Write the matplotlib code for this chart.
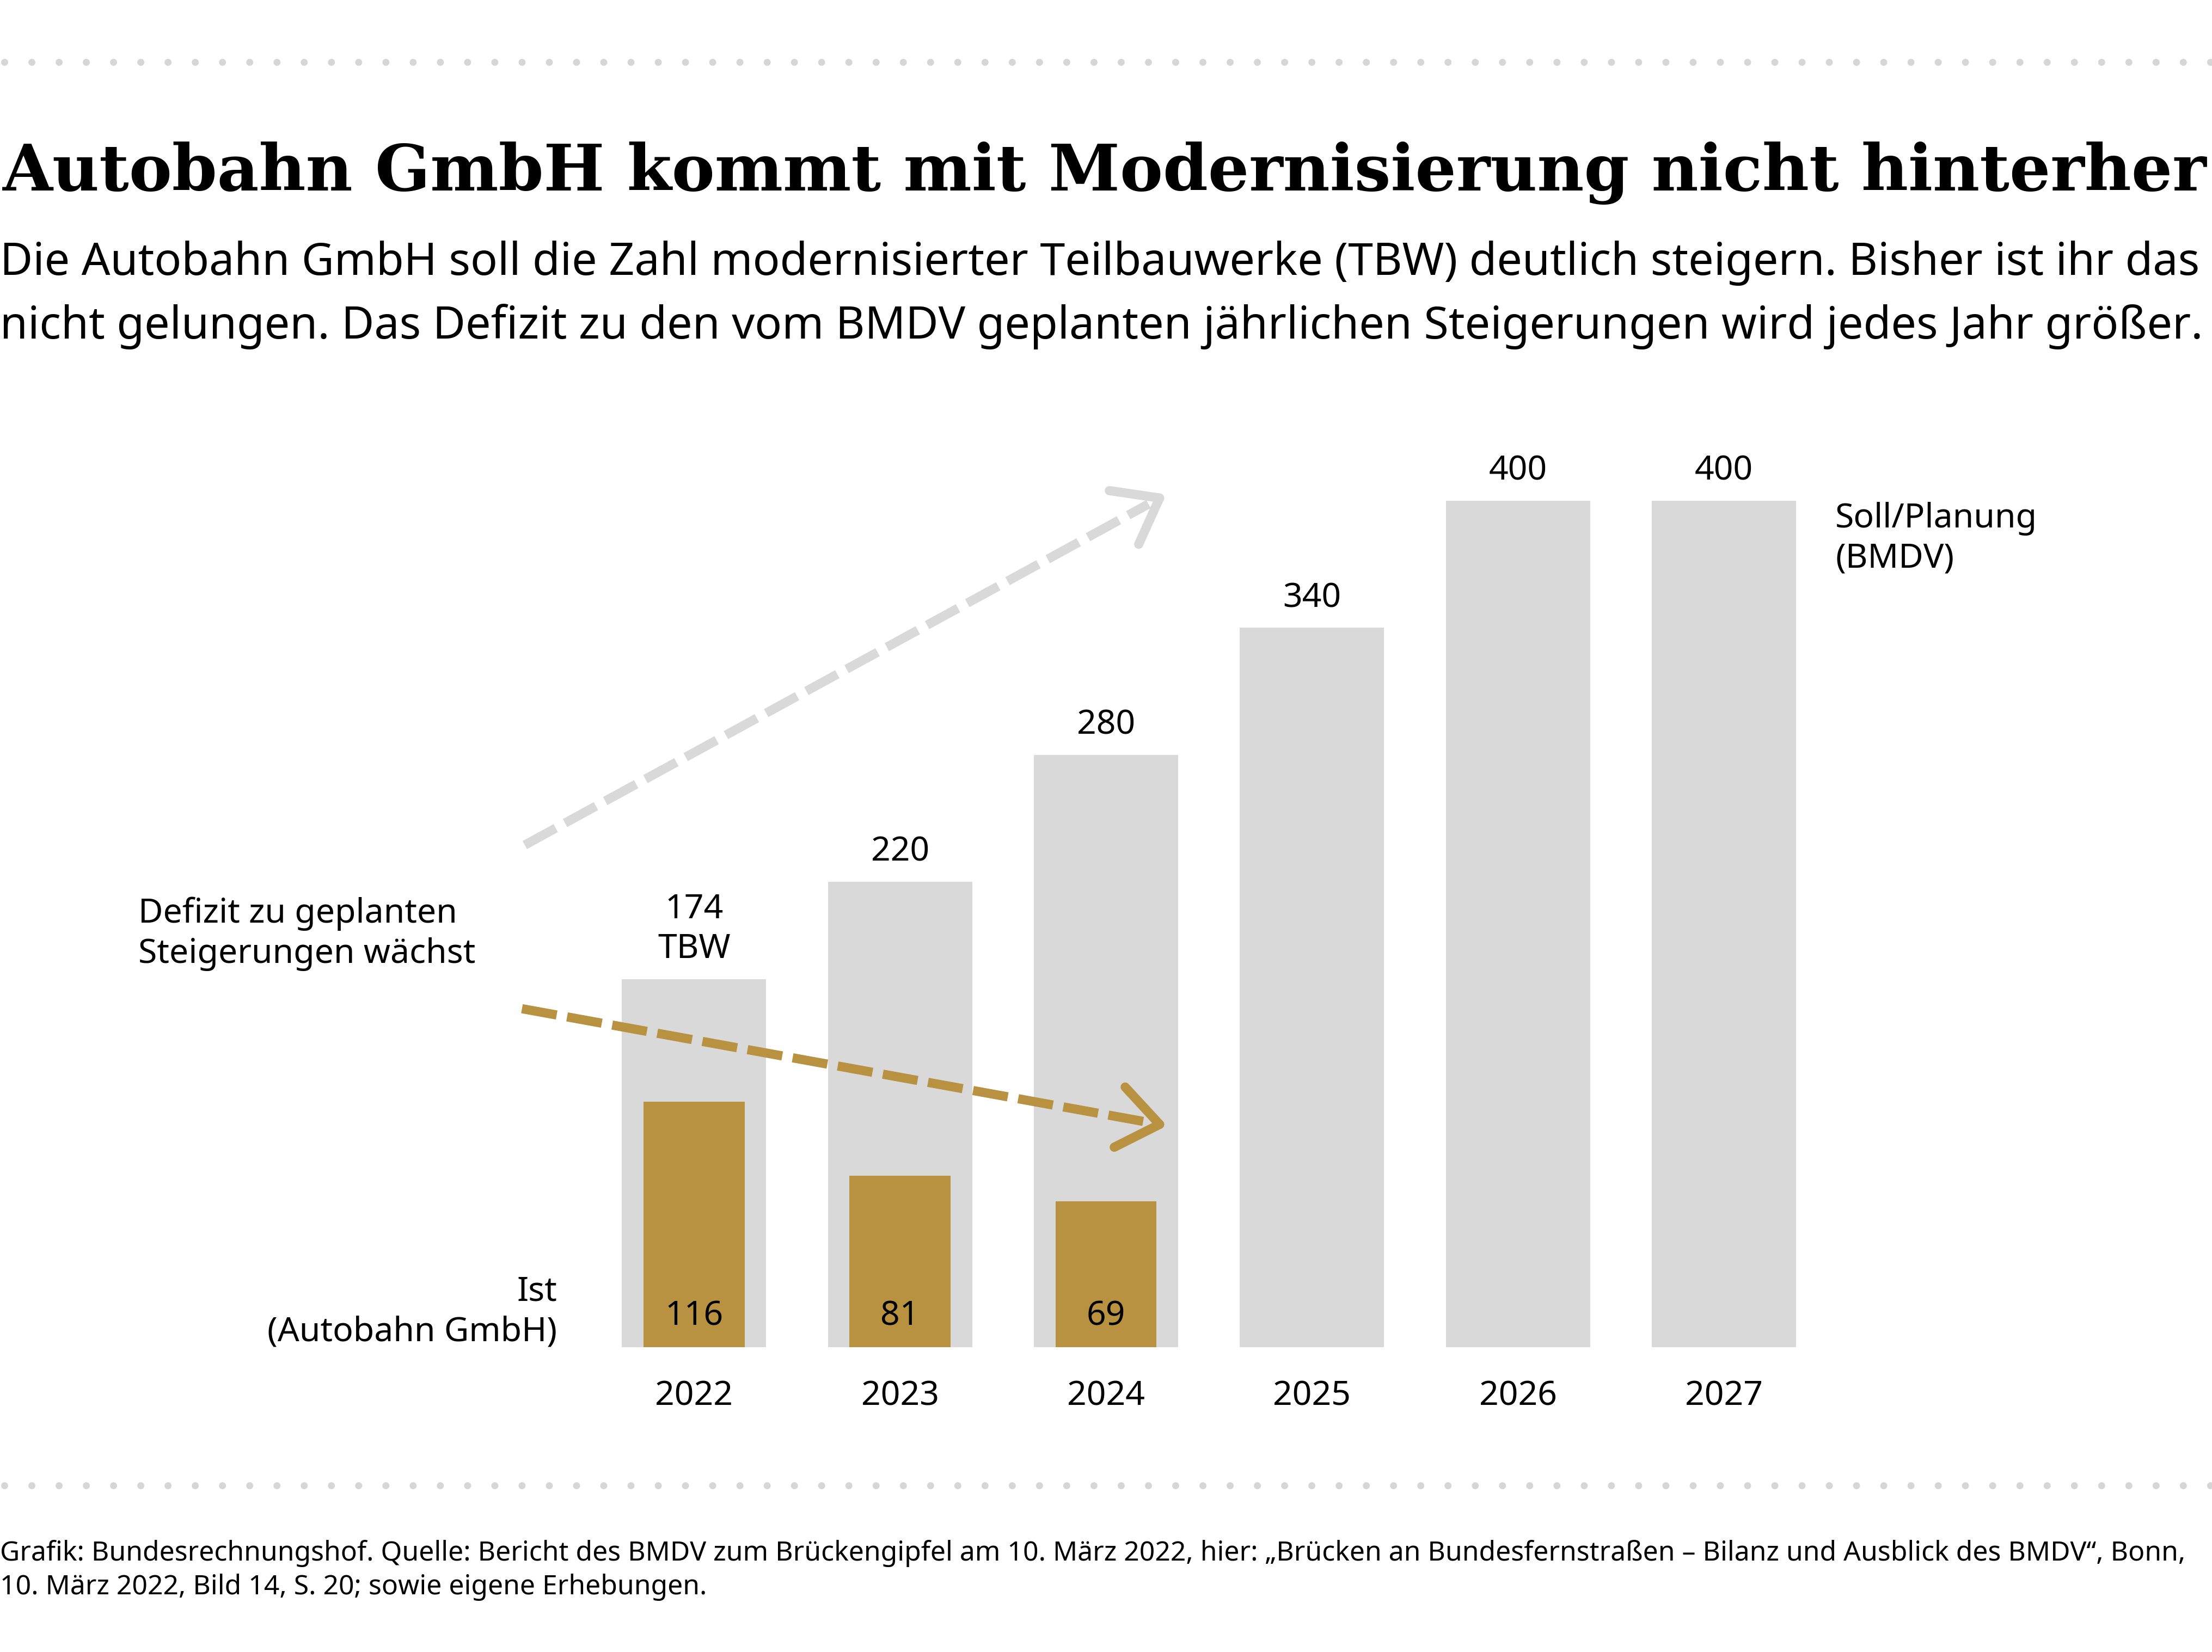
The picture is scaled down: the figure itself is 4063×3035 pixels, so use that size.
import numpy as np
import matplotlib.pyplot as plt

# data
years = ["2022", "2023", "2024", "2025", "2026", "2027"]
soll = [174, 220, 280, 340, 400, 400]
soll_labels = ["174\nTBW", "220", "280", "340", "400", "400"]
ist = [116, 81, 69]

GREY = "#d9d9d9"
GOLD = "#b89240"
DOTS = "#d6d6d6"

# layout grid (reference measured at 1568 x 1171, saved at 4063 x 3035)
W, H = 1568, 1171
PT = 4063 / W / 300 * 72  # points per grid px
FS = 15  # chart labels

plt.rcParams["font.family"] = ["Noto Sans", "DejaVu Sans"]

fig = plt.figure(figsize=(4063 / 300, 3035 / 300), dpi=300)

# bar axes: x=0 sits at px 492, bar pitch 146 px; y=0 at px 955, 1.5 px per TBW
ax = fig.add_axes([0, 0, 1, 1])
ax.set_xlim(-492 / 146, (W - 492) / 146)
ax.set_ylim(-(H - 955) / 1.5, 955 / 1.5)
ax.axis("off")

x = np.arange(len(years))
ax.bar(x, soll, width=0.70, color=GREY, zorder=1)
ax.bar(x[:len(ist)], ist, width=0.49, color=GOLD, zorder=2)

for i, (v, lab) in enumerate(zip(soll, soll_labels)):
    ax.annotate(lab, (i, v), xytext=(0, 9 * PT), textcoords="offset points",
                ha="center", va="bottom", fontsize=FS, linespacing=1.25)
for i, v in enumerate(ist):
    ax.annotate(str(v), (i, 0), xytext=(0, 22 * PT), textcoords="offset points",
                ha="center", va="center", fontsize=FS)
for i, yr in enumerate(years):
    ax.annotate(yr, (i, 0), xytext=(0, -35 * PT), textcoords="offset points",
                ha="center", va="center", fontsize=FS)

# overlay in grid pixels for texts, separators and arrows
deco = fig.add_axes([0, 0, 1, 1], zorder=3)
deco.set_xlim(0, W)
deco.set_ylim(H, 0)
deco.axis("off")
deco.patch.set_alpha(0)

dot_lw = 5 * PT
for yy in (44, 1053):
    deco.plot([3, W], [yy, yy], color=DOTS, lw=dot_lw, dash_capstyle="round",
              ls=(0, (0.001, 19.3 * PT / dot_lw)))


def fit_width(txt, width_px):
    # scale the font so the text spans width_px grid pixels
    fig.canvas.draw()
    bb = txt.get_window_extent()
    fs = txt.get_fontsize() * (width_px / W * fig.bbox.width) / bb.width
    txt.set_fontsize(fs)
    return fs


title = deco.text(2, 135, "Autobahn GmbH kommt mit Modernisierung nicht hinterher",
                  family="DejaVu Serif", weight="bold", fontsize=30, va="baseline")
fit_width(title, 1563)

sub1 = deco.text(0, 195, "Die Autobahn GmbH soll die Zahl modernisierter Teilbauwerke (TBW) deutlich steigern. Bisher ist ihr das",
                 fontsize=18, va="baseline")
sub_fs = fit_width(sub1, 1560)
deco.text(0, 240, "nicht gelungen. Das Defizit zu den vom BMDV geplanten jährlichen Steigerungen wird jedes Jahr größer.",
          fontsize=sub_fs, va="baseline")

deco.text(98, 662, "Defizit zu geplanten\nSteigerungen wächst", fontsize=FS,
          va="center", ha="left", linespacing=1.25)
deco.text(395, 930, "Ist\n(Autobahn GmbH)", fontsize=FS, va="center",
          ha="right", multialignment="right", linespacing=1.25)
deco.text(1301, 382, "Soll/Planung\n(BMDV)", fontsize=FS, va="center",
          ha="left", linespacing=1.25)

foot1 = deco.text(0, 1106, "Grafik: Bundesrechnungshof. Quelle: Bericht des BMDV zum Brückengipfel am 10. März 2022, "
                  "hier: „Brücken an Bundesfernstraßen – Bilanz und Ausblick des BMDV“, Bonn,",
                  fontsize=12, va="baseline")
foot_fs = fit_width(foot1, 1550)
deco.text(0, 1130, "10. März 2022, Bild 14, S. 20; sowie eigene Erhebungen.",
          fontsize=foot_fs, va="baseline")


def dashed_arrow(p0, p1, color):
    lw = 6.5 * PT
    p0 = np.array(p0, float)
    p1 = np.array(p1, float)
    d = (p1 - p0) / np.hypot(*(p1 - p0))
    end = p1 - d * 9
    deco.plot([p0[0], end[0]], [p0[1], end[1]], color=color, lw=lw,
              solid_capstyle="butt", dash_capstyle="butt",
              ls=(0, (25 * PT / lw, 7.5 * PT / lw)))
    back = -d
    for ang in (np.radians(37), -np.radians(37)):
        c, s = np.cos(ang), np.sin(ang)
        arm = np.array([c * back[0] - s * back[1], s * back[0] + c * back[1]])
        q = p1 + arm * 36
        deco.plot([q[0], p1[0]], [q[1], p1[1]], color=color, lw=lw,
                  solid_capstyle="round", solid_joinstyle="miter")


dashed_arrow((372, 599), (822, 353), GREY)
dashed_arrow((370, 715), (822, 797), GOLD)

fig.savefig("out.png", dpi=300)
